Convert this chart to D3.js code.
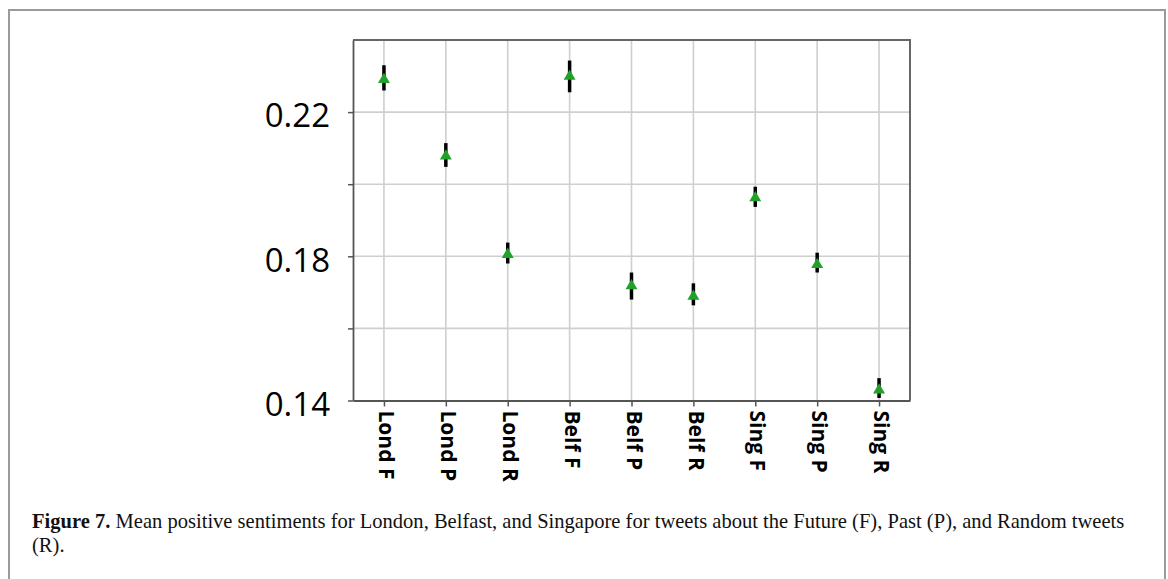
<!DOCTYPE html>
<html>
<head>
<meta charset="utf-8">
<script src="https://cdn.jsdelivr.net/npm/d3@7/dist/d3.min.js"></script>
<style>
  html, body { margin: 0; padding: 0; background: #fff; }
  svg { display: block; }
</style>
</head>
<body>
<svg id="fig" width="1168" height="579"></svg>
<script>
// Mean positive sentiment per city / tweet type, with error-bar limits
const categories = ["Lond F", "Lond P", "Lond R", "Belf F", "Belf P", "Belf R", "Sing F", "Sing P", "Sing R"];
const means = [0.2290, 0.2078, 0.1805, 0.2299, 0.1718, 0.1689, 0.1962, 0.1777, 0.1429];
const lower = [0.2260, 0.2048, 0.1780, 0.2255, 0.1680, 0.1664, 0.1937, 0.1755, 0.1407];
const upper = [0.2330, 0.2114, 0.1838, 0.2343, 0.1755, 0.1725, 0.1993, 0.1810, 0.1462];
const yTickLabels = [0.14, 0.18, 0.22];
const yGridValues = [0.16, 0.18, 0.20, 0.22];
const yDomain = [0.14, 0.24];

const svg = d3.select("#fig");

// outer figure frame
svg.append("rect")
  .attr("x", 9).attr("y", 10)
  .attr("width", 1156).attr("height", 600)
  .attr("fill", "none")
  .attr("stroke", "#9a9a9a")
  .attr("stroke-width", 2);

const plot = { left: 353, right: 910, top: 40, bottom: 400.5 };

const x = d3.scalePoint()
  .domain(categories)
  .range([plot.left, plot.right])
  .padding(0.5);

const y = d3.scaleLinear()
  .domain(yDomain)
  .range([plot.bottom, plot.top]);

// grid
const grid = svg.append("g").attr("stroke", "#cfcfcf").attr("stroke-width", 1.6);
grid.selectAll("line.h").data(yGridValues).join("line")
  .attr("class", "h")
  .attr("x1", plot.left).attr("x2", plot.right)
  .attr("y1", d => y(d)).attr("y2", d => y(d));
grid.selectAll("line.v").data(categories).join("line")
  .attr("class", "v")
  .attr("x1", d => x(d)).attr("x2", d => x(d))
  .attr("y1", plot.top).attr("y2", plot.bottom);

// top and right frame of the plot area
svg.append("path")
  .attr("d", `M${plot.left},${plot.top}H${plot.right}V${plot.bottom}`)
  .attr("fill", "none")
  .attr("stroke", "#666")
  .attr("stroke-width", 2);

// y axis
const yAxis = svg.append("g")
  .attr("transform", `translate(${plot.left},0)`)
  .call(d3.axisLeft(y)
    .tickValues(d3.range(0.14, 0.2401, 0.02).filter(v => v < 0.239))
    .tickSize(5)
    .tickSizeOuter(0)
    .tickPadding(18)
    .tickFormat(d => yTickLabels.some(t => Math.abs(t - d) < 1e-9) ? d3.format(".2f")(d) : ""));
yAxis.select(".domain").attr("stroke", "#555").attr("stroke-width", 1.8);
yAxis.selectAll(".tick line").attr("stroke", "#555").attr("stroke-width", 1.5);
yAxis.selectAll(".tick text")
  .attr("font-family", "'Open Sans', 'Noto Sans', sans-serif")
  .attr("font-size", 33)
  .attr("fill", "#000")
  .attr("dy", "0.45em");

// x axis
const xAxis = svg.append("g")
  .attr("transform", `translate(0,${plot.bottom})`)
  .call(d3.axisBottom(x).tickSize(6).tickSizeOuter(0));
xAxis.select(".domain").attr("stroke", "#555").attr("stroke-width", 1.8);
xAxis.selectAll(".tick line").attr("stroke", "#555").attr("stroke-width", 1.5);
xAxis.selectAll(".tick text")
  .attr("font-family", "'Open Sans', 'Noto Sans', sans-serif")
  .attr("font-weight", 700)
  .attr("font-size", 21)
  .attr("fill", "#000")
  .attr("transform", "rotate(90)")
  .attr("x", 10)
  .attr("y", -2)
  .attr("dy", "0.35em")
  .style("text-anchor", "start");

// error bars and mean markers
const rows = categories.map((c, i) => ({ c, m: means[i], lo: lower[i], hi: upper[i] }));
svg.append("g").selectAll("line").data(rows).join("line")
  .attr("x1", d => x(d.c)).attr("x2", d => x(d.c))
  .attr("y1", d => y(d.lo)).attr("y2", d => y(d.hi))
  .attr("stroke", "#000")
  .attr("stroke-width", 3.5);

const tri = d3.symbol().type(d3.symbolTriangle).size(62);
svg.append("g").selectAll("path").data(rows).join("path")
  .attr("d", tri)
  .attr("transform", d => `translate(${x(d.c)},${y(d.m)})`)
  .attr("fill", "#22a12a");

// caption
const capFont = "'Liberation Serif', 'DejaVu Serif', serif";
const capLeft = 32, capWidth = 1093;
const cap1 = svg.append("text")
  .attr("font-family", capFont)
  .attr("font-size", 20.5)
  .attr("fill", "#111");
cap1.append("tspan").attr("font-weight", 700).text("Figure 7.");
cap1.append("tspan").text(" Mean positive sentiments for London, Belfast, and Singapore for tweets about the Future (F), Past (P), and Random tweets");
const w1 = cap1.node().getComputedTextLength();
const sx = capWidth / w1;
cap1.attr("transform", `translate(${capLeft},528) scale(${sx},1)`);

svg.append("text")
  .attr("font-family", capFont)
  .attr("font-size", 20.5)
  .attr("fill", "#111")
  .attr("transform", `translate(${capLeft},552) scale(${sx},1)`)
  .text("(R).");
</script>
</body>
</html>
